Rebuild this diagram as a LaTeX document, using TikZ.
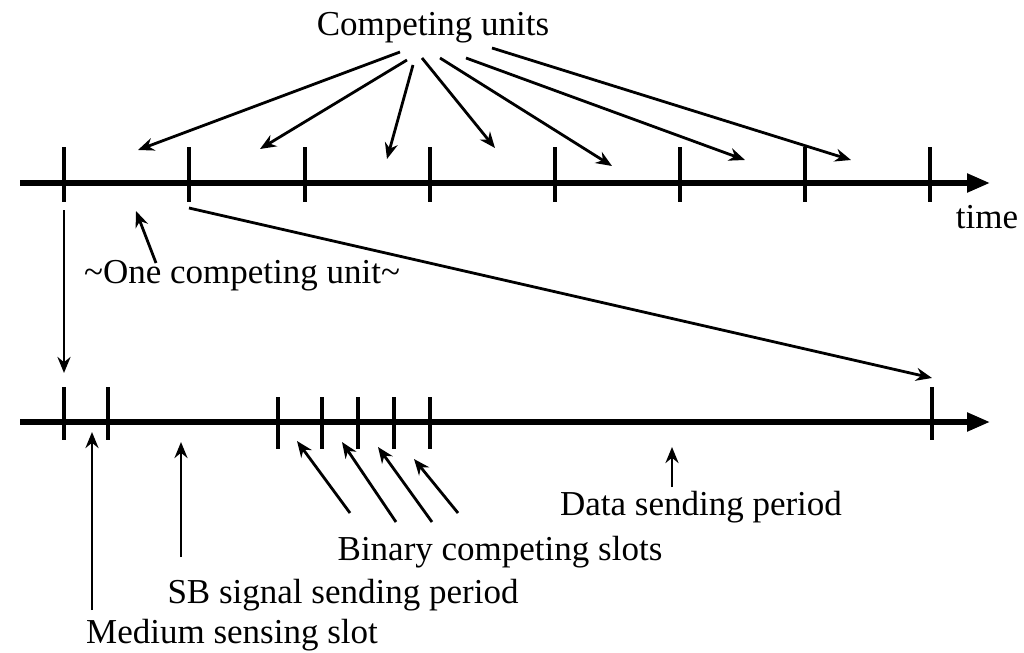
\documentclass[tikz,border=0pt]{standalone}
\usepackage{fontspec}
\setmainfont{Liberation Serif}
\usetikzlibrary{arrows.meta}
\begin{document}
\begin{tikzpicture}[x=0.5pt,y=-0.5pt,
  axis/.style={line width=2.6pt,-{Triangle[length=11.5pt,width=9pt]}},
  tickmark/.style={line width=1.6pt},
  pointer/.style={line width=1.4pt,-{Stealth[length=8pt,width=6.5pt]}},
  lbl/.style={font=\fontsize{17.5}{20}\selectfont,inner sep=0pt,anchor=base}]
\useasboundingbox (0,0) rectangle (1024,653);
\fill[white] (0,0) rectangle (1024,653);

% ---------- top time axis ----------
\coordinate (ta) at (20,183);
\coordinate (tb) at (990,183);
\draw[axis] (ta) -- (tb);
\foreach \x in {64,189,305,430,555,680,805,930}{
  \draw[tickmark] (\x,147) -- (\x,202);
}
\node[lbl] (time) at (987,228) {time};

% competing units label and arrows
\node[lbl] (cu) at (433,35) {Competing units};
\coordinate (s1) at (400,52);  \coordinate (e1) at (138,150);
\coordinate (s2) at (407,60);  \coordinate (e2) at (260,149);
\coordinate (s3) at (413,65);  \coordinate (e3) at (387,159);
\coordinate (s4) at (422,58);  \coordinate (e4) at (495,148);
\coordinate (s5) at (440,58);  \coordinate (e5) at (612,166);
\coordinate (s6) at (466,58);  \coordinate (e6) at (745,160);
\coordinate (s7) at (492,48);  \coordinate (e7) at (851,160);
\foreach \i in {1,...,7}{ \draw[pointer] (s\i) -- (e\i); }

% one competing unit
\node[lbl] (one) at (242,283) {\textasciitilde One competing unit\textasciitilde};
\coordinate (os) at (156,263);
\coordinate (oe) at (136,211);
\draw[pointer] (os) -- (oe);

% zoom connectors
\coordinate (z1s) at (64,210);
\coordinate (z1e) at (64,373);
\draw[pointer] (z1s) -- (z1e);
\coordinate (z2s) at (189,208);
\coordinate (z2e) at (932,378);
\draw[pointer] (z2s) -- (z2e);

% ---------- bottom axis ----------
\coordinate (ba) at (20,422);
\coordinate (bb) at (990,422);
\draw[axis] (ba) -- (bb);
\foreach \x in {64,108,932}{
  \draw[tickmark] (\x,387) -- (\x,440);
}
\foreach \x in {278,322,358,394,430}{
  \draw[tickmark] (\x,397) -- (\x,449);
}

% labels below
\node[lbl] (data) at (701,515) {Data sending period};
\coordinate (ds) at (672,487); \coordinate (de) at (672,447);
\draw[pointer] (ds) -- (de);

\node[lbl] (bin) at (500,560) {Binary competing slots};
\coordinate (b1s) at (350,513); \coordinate (b1e) at (297,441);
\coordinate (b2s) at (396,522); \coordinate (b2e) at (342,442);
\coordinate (b3s) at (432,522); \coordinate (b3e) at (378,447);
\coordinate (b4s) at (458,513); \coordinate (b4e) at (414,459);
\foreach \i in {1,...,4}{ \draw[pointer] (b\i s) -- (b\i e); }

\node[lbl] (sb) at (343,603) {SB signal sending period};
\coordinate (sbs) at (181,557); \coordinate (sbe) at (181,442);
\draw[pointer] (sbs) -- (sbe);

\node[lbl] (med) at (232,643) {Medium sensing slot};
\coordinate (ms) at (92,610); \coordinate (me) at (92,432);
\draw[pointer] (ms) -- (me);
\end{tikzpicture}
\end{document}
